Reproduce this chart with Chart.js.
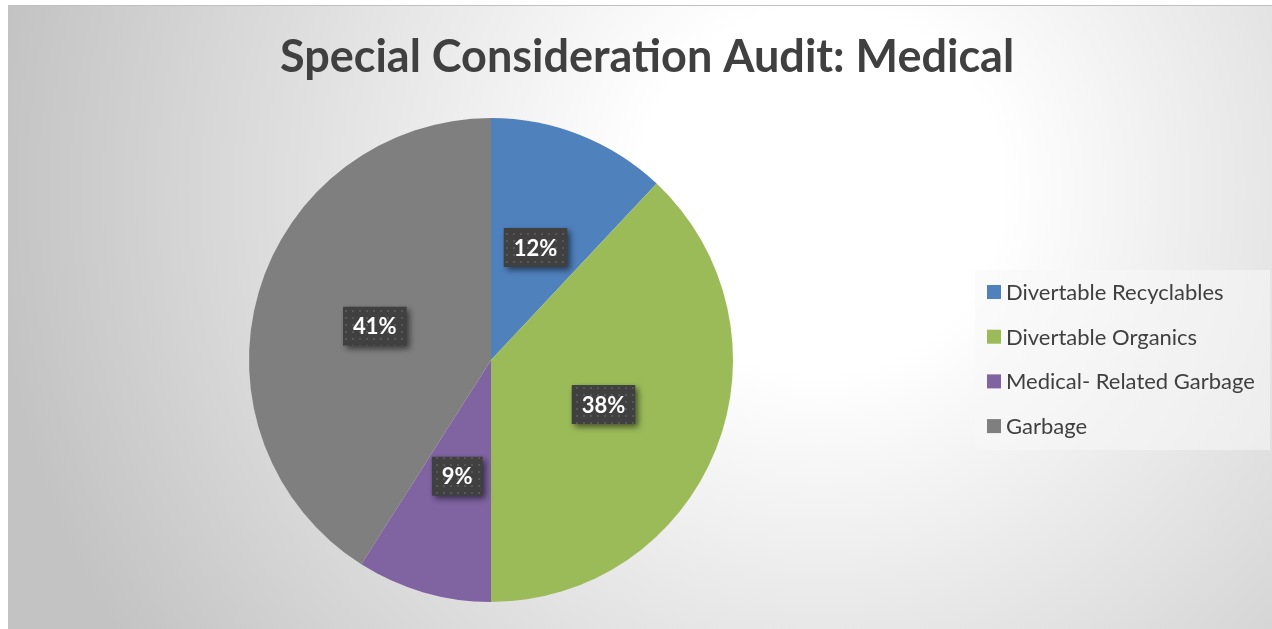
<!DOCTYPE html>
<html>
<head>
<meta charset="utf-8">
<script src="https://cdn.jsdelivr.net/npm/chart.js@4"></script>
<style>
  html, body { margin: 0; padding: 0; background: #ffffff; }
  #wrap { position: relative; width: 1272px; height: 629px; }
</style>
</head>
<body>
<div id="wrap"><canvas id="auditPie"></canvas></div>
<script>
// data
const categories = ['Divertable Recyclables', 'Divertable Organics', 'Medical- Related Garbage', 'Garbage'];
const shares = [12, 38, 9, 41];
const sliceColors = ['#4f81bd', '#9bbb59', '#8064a2', '#7f7f7f'];
const chartTitle = 'Special Consideration Audit: Medical';

// gray/white gradient behind everything, and the title across the whole width
const backdrop = {
	id: 'backdrop',
	beforeDraw(chart) {
		const ctx = chart.ctx;
		ctx.save();
		ctx.fillStyle = '#ffffff';
		ctx.fillRect(0, 0, chart.width, chart.height);
		const g = ctx.createRadialGradient(820, 190, 0, 820, 190, 830);
		g.addColorStop(0, '#ffffff');
		g.addColorStop(0.22, '#ffffff');
		g.addColorStop(1, '#c3c3c3');
		ctx.fillStyle = g;
		ctx.fillRect(8, 5, chart.width - 8, chart.height - 5);
		ctx.strokeStyle = '#c0c0c0';
		ctx.lineWidth = 1;
		ctx.beginPath();
		ctx.moveTo(8, 5.5);
		ctx.lineTo(chart.width, 5.5);
		ctx.stroke();

		ctx.fillStyle = '#404040';
		ctx.font = 'bold 45px Lato';
		ctx.textAlign = 'center';
		ctx.textBaseline = 'middle';
		ctx.fillText(chartTitle, 647, 57);
		ctx.restore();
	}
};

// legend on the right, drawn from the chart's labels and colours
const sideLegend = {
	id: 'sideLegend',
	afterDraw(chart) {
		const ctx = chart.ctx;
		const labels = chart.data.labels;
		const colors = chart.data.datasets[0].backgroundColor;
		const left = 975, top = 270, step = 44.7;
		ctx.save();
		ctx.fillStyle = 'rgba(248,248,248,0.55)';
		ctx.fillRect(left, top, chart.width - 2 - left, 180);
		ctx.font = '22px Lato';
		ctx.textBaseline = 'middle';
		labels.forEach((lab, i) => {
			const y = top + 22 + i * step;
			ctx.fillStyle = colors[i];
			ctx.fillRect(987, y - 7, 14, 14);
			ctx.fillStyle = '#404040';
			ctx.fillText(lab, 1006, y + 1);
		});
		ctx.restore();
	}
};

// dark dotted tag with the percentage on each slice
function dottedFill(ctx) {
	const tile = document.createElement('canvas');
	tile.width = 7;
	tile.height = 7;
	const t = tile.getContext('2d');
	t.fillStyle = '#404040';
	t.fillRect(0, 0, 7, 7);
	t.fillStyle = '#575757';
	t.fillRect(2, 2, 2, 2);
	return ctx.createPattern(tile, 'repeat');
}

const sliceTags = {
	id: 'sliceTags',
	afterDatasetsDraw(chart) {
		const ctx = chart.ctx;
		const meta = chart.getDatasetMeta(0);
		const vals = chart.data.datasets[0].data;
		const total = vals.reduce((a, b) => a + b, 0);
		const pattern = dottedFill(ctx);
		ctx.save();
		ctx.font = 'bold 22px Lato';
		ctx.textAlign = 'center';
		ctx.textBaseline = 'middle';
		meta.data.forEach((arc, i) => {
			const p = arc.getCenterPoint();
			const label = Math.round(vals[i] / total * 100) + '%';
			const w = ctx.measureText(label).width + 20;
			const h = 39;
			ctx.save();
			ctx.shadowColor = 'rgba(0,0,0,0.55)';
			ctx.shadowBlur = 6;
			ctx.shadowOffsetX = 3;
			ctx.shadowOffsetY = 3;
			ctx.fillStyle = pattern;
			ctx.fillRect(p.x - w / 2, p.y - h / 2, w, h);
			ctx.restore();
			ctx.fillStyle = '#ffffff';
			ctx.fillText(label, p.x, p.y + 1);
		});
		ctx.restore();
	}
};

var ctx = document.getElementById('auditPie').getContext('2d');
var chart = new Chart(ctx, {
	type: 'pie',
	data: {
		labels: categories,
		datasets: [
			{
				data: shares,
				backgroundColor: sliceColors,
				borderWidth: 0
			}
		]
	},
	plugins: [backdrop, sliceTags, sideLegend],
	options: {
		responsive: true,
		maintainAspectRatio: false,
		animation: false,
		layout: {
			padding: { top: 118, bottom: 27, left: 8, right: 298 }
		},
		plugins: {
			title: { display: false },
			legend: { display: false },
			tooltip: { enabled: false }
		}
	}
});
</script>
</body>
</html>
